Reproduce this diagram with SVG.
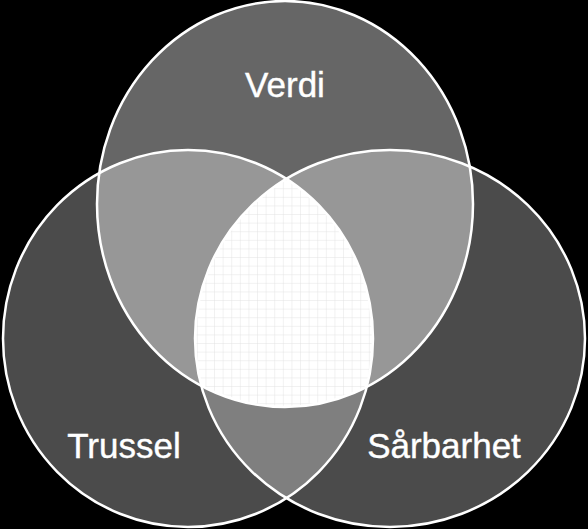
<svg xmlns="http://www.w3.org/2000/svg" width="588" height="529" viewBox="0 0 588 529">
  <style>
    .outline { fill: none; stroke: #ffffff; stroke-width: 2.5; }
    .label { font-family: "Liberation Sans", Arial, sans-serif; font-size: 35px; fill: #ffffff; stroke: #ffffff; stroke-width: 0.4; text-anchor: middle; }
  </style>
  <defs>
    <clipPath id="clipTop"><ellipse cx="285" cy="204" rx="188" ry="203"/></clipPath>
    <clipPath id="clipLeft"><ellipse cx="188" cy="338.5" rx="185" ry="188.5"/></clipPath>
    <clipPath id="clipRight"><ellipse cx="390" cy="338.5" rx="195" ry="188.5"/></clipPath>
    <pattern id="grid" width="8.6" height="8.6" patternUnits="userSpaceOnUse">
      <rect width="8.6" height="8.6" fill="#ffffff"/>
      <path d="M8.6 0V8.6M0 8.6H8.6" fill="none" stroke="#dcdcdc" stroke-width="0.8"/>
    </pattern>
  </defs>
  <rect width="588" height="529" fill="#000000"/>

  <g id="verdi-fill"><ellipse cx="285" cy="204" rx="188" ry="203" fill="#666666"/></g>
  <g id="trussel-fill"><ellipse cx="188" cy="338.5" rx="185" ry="188.5" fill="#4b4b4b"/></g>
  <g id="sarbarhet-fill"><ellipse cx="390" cy="338.5" rx="195" ry="188.5" fill="#4b4b4b"/></g>

  <g id="overlaps">
    <g clip-path="url(#clipTop)"><ellipse cx="188" cy="338.5" rx="185" ry="188.5" fill="#979797"/></g>
    <g clip-path="url(#clipTop)"><ellipse cx="390" cy="338.5" rx="195" ry="188.5" fill="#979797"/></g>
    <g clip-path="url(#clipLeft)"><ellipse cx="390" cy="338.5" rx="195" ry="188.5" fill="#7f7f7f"/></g>
    <g id="center" clip-path="url(#clipLeft)"><g clip-path="url(#clipRight)"><ellipse cx="285" cy="204" rx="188" ry="203" fill="url(#grid)"/></g></g>
  </g>

  <g id="connectors"></g>

  <g id="verdi">
    <ellipse class="outline" cx="285" cy="204" rx="188" ry="203"/>
    <text class="label" x="285" y="97">Verdi</text>
  </g>
  <g id="trussel">
    <ellipse class="outline" cx="188" cy="338.5" rx="185" ry="188.5"/>
    <text class="label" x="124" y="458">Trussel</text>
  </g>
  <g id="sarbarhet">
    <ellipse class="outline" cx="390" cy="338.5" rx="195" ry="188.5"/>
    <text class="label" x="444" y="458">Sårbarhet</text>
  </g>
</svg>
